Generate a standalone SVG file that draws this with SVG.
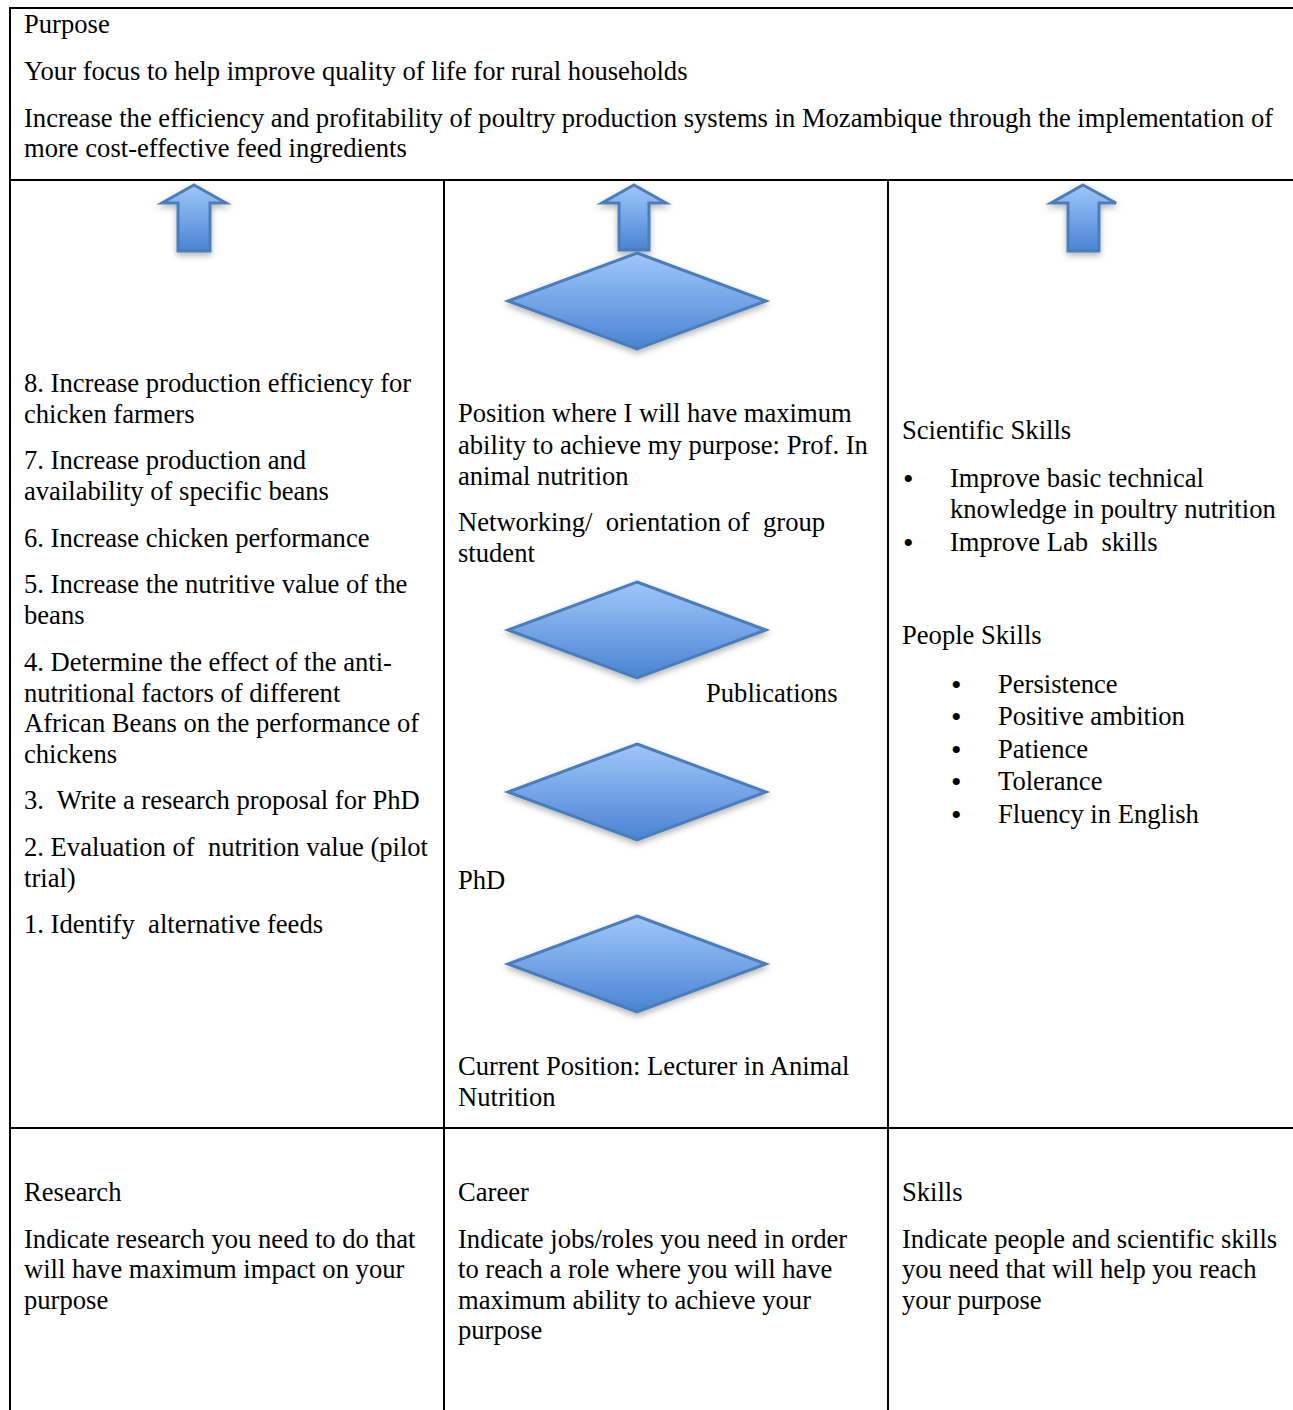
<svg xmlns="http://www.w3.org/2000/svg" width="1293" height="1410" viewBox="0 0 1293 1410">
<style>
text{font-family:"Liberation Serif","Times New Roman",serif;font-size:26.6px;fill:#000;white-space:pre}
text.b{font-size:30px}
.grid{stroke:#000;stroke-width:2;fill:none}
.shape{fill:url(#blue);stroke:#4a7dbb;stroke-width:3;stroke-linejoin:miter;filter:url(#sh)}
</style>
<defs>
<linearGradient id="blue" x1="0" y1="0" x2="0" y2="1">
<stop offset="0" stop-color="#a0c6fa"/>
<stop offset="1" stop-color="#4984d3"/>
</linearGradient>
<filter id="sh" x="-20%" y="-20%" width="140%" height="150%">
<feDropShadow dx="0" dy="3" stdDeviation="3" flood-color="#000" flood-opacity="0.3"/>
</filter>
</defs>
<rect width="1293" height="1410" fill="#fff"/>
<g id="grid">
<line class="grid" x1="10" y1="8" x2="1293" y2="8"/>
<line class="grid" x1="10" y1="7" x2="10" y2="1410"/>
<line class="grid" x1="10" y1="180" x2="1293" y2="180"/>
<line class="grid" x1="10" y1="1128" x2="1293" y2="1128"/>
<line class="grid" x1="444" y1="180" x2="444" y2="1410"/>
<line class="grid" x1="888" y1="180" x2="888" y2="1410"/>
</g>
<g id="purpose" transform="translate(0,1)">
<text x="24" y="32">Purpose</text>
<text x="24" y="79">Your focus to help improve quality of life for rural households</text>
<text x="24" y="126">Increase the efficiency and profitability of poultry production systems in Mozambique through the implementation of</text>
<text x="24" y="156">more cost-effective feed ingredients</text>
</g>
<g id="connectors">
<path class="shape" d="M194,185 L226,203 L210,203 L210,251 L178,251 L178,203 L162,203 Z"/>
<path class="shape" d="M634,185 L666,203 L649,203 L649,250 L619,250 L619,203 L602,203 Z"/>
<path class="shape" d="M1083,185 L1116,203 L1099,203 L1099,251 L1068,251 L1068,203 L1051,203 Z"/>
</g>
<g id="diamond1"><path class="shape" d="M637,253 L766,301 L637,349 L508,301 Z"/></g>
<g id="diamond2"><path class="shape" d="M637,582 L766,630 L637,678 L508,630 Z"/></g>
<g id="diamond3"><path class="shape" d="M637,744 L766,792 L637,840 L508,792 Z"/></g>
<g id="diamond4"><path class="shape" d="M637,916 L766,964 L637,1012 L508,964 Z"/></g>
<g id="research-steps" transform="translate(0,1)">
<text x="24" y="391">8. Increase production efficiency for</text>
<text x="24" y="422">chicken farmers</text>
<text x="24" y="468">7. Increase production and</text>
<text x="24" y="499">availability of specific beans</text>
<text x="24" y="546">6. Increase chicken performance</text>
<text x="24" y="592">5. Increase the nutritive value of the</text>
<text x="24" y="623">beans</text>
<text x="24" y="670">4. Determine the effect of the anti-</text>
<text x="24" y="701">nutritional factors of different</text>
<text x="24" y="731">African Beans on the performance of</text>
<text x="24" y="762">chickens</text>
<text x="24" y="808">3.  Write a research proposal for PhD</text>
<text x="24" y="855">2. Evaluation of  nutrition value (pilot</text>
<text x="24" y="886">trial)</text>
<text x="24" y="932">1. Identify  alternative feeds</text>
</g>
<g id="career-steps" transform="translate(0,1)">
<text x="458" y="421">Position where I will have maximum</text>
<text x="458" y="453">ability to achieve my purpose: Prof. In</text>
<text x="458" y="484">animal nutrition</text>
<text x="458" y="530">Networking/  orientation of  group</text>
<text x="458" y="561">student</text>
<text x="706" y="701">Publications</text>
<text x="458" y="888">PhD</text>
<text x="458" y="1074">Current Position: Lecturer in Animal</text>
<text x="458" y="1105">Nutrition</text>
</g>
<g id="skills-list" transform="translate(0,1)">
<text x="902" y="438">Scientific Skills</text>
<text class="b" x="903" y="488">•</text>
<text x="950" y="486">Improve basic technical</text>
<text x="950" y="517">knowledge in poultry nutrition</text>
<text class="b" x="903" y="552">•</text>
<text x="950" y="550">Improve Lab  skills</text>
<text x="902" y="643">People Skills</text>
<text class="b" x="951" y="694">•</text>
<text x="998" y="692">Persistence</text>
<text class="b" x="951" y="726">•</text>
<text x="998" y="724">Positive ambition</text>
<text class="b" x="951" y="759">•</text>
<text x="998" y="757">Patience</text>
<text class="b" x="951" y="791">•</text>
<text x="998" y="789">Tolerance</text>
<text class="b" x="951" y="824">•</text>
<text x="998" y="822">Fluency in English</text>
</g>
<g id="research" transform="translate(0,1)">
<text x="24" y="1200">Research</text>
<text x="24" y="1247">Indicate research you need to do that</text>
<text x="24" y="1277">will have maximum impact on your</text>
<text x="24" y="1308">purpose</text>
</g>
<g id="career" transform="translate(0,1)">
<text x="458" y="1200">Career</text>
<text x="458" y="1247">Indicate jobs/roles you need in order</text>
<text x="458" y="1277">to reach a role where you will have</text>
<text x="458" y="1308">maximum ability to achieve your</text>
<text x="458" y="1338">purpose</text>
</g>
<g id="skills" transform="translate(0,1)">
<text x="902" y="1200">Skills</text>
<text x="902" y="1247">Indicate people and scientific skills</text>
<text x="902" y="1277">you need that will help you reach</text>
<text x="902" y="1308">your purpose</text>
</g>
</svg>
